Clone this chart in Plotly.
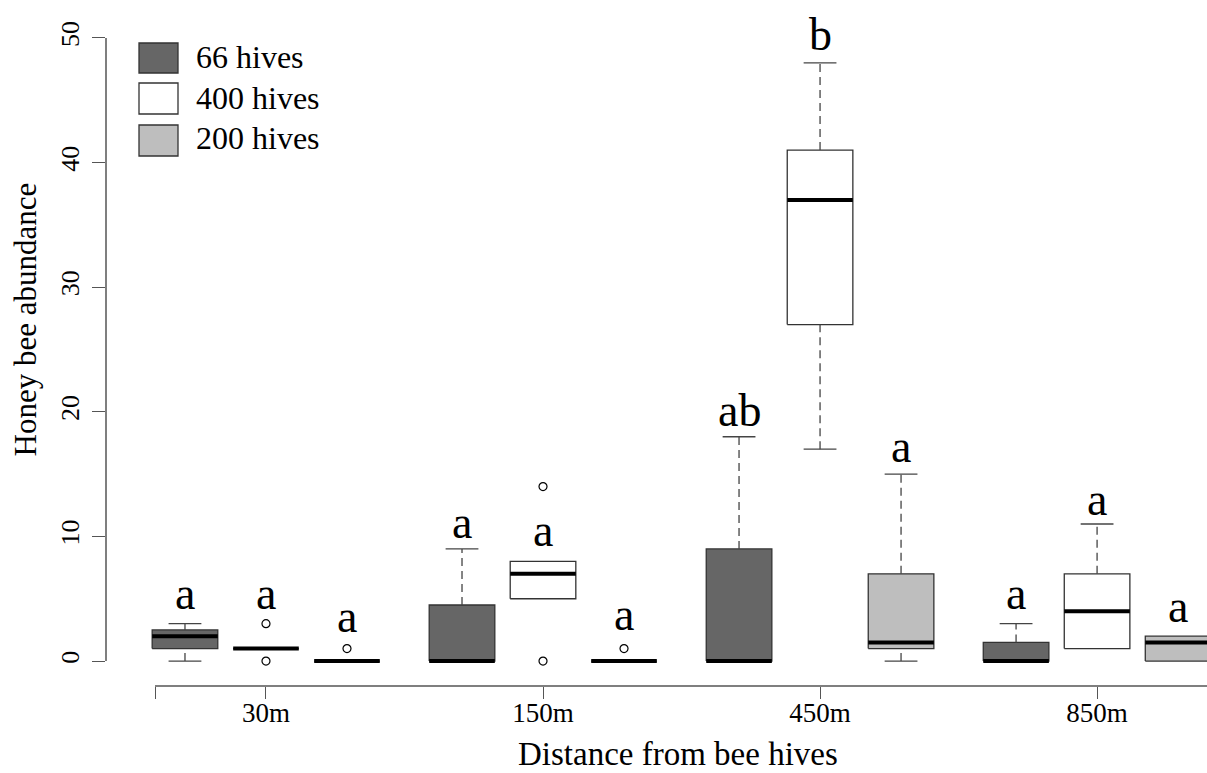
import plotly.graph_objects as go

# ---------------- data ----------------
distances = ["30m", "150m", "450m", "850m"]
hive_groups = ["66 hives", "400 hives", "200 hives"]

# box statistics, order: 30m(66,400,200), 150m(...), 450m(...), 850m(...)
q1 = [1, 1, 0,   0, 5, 0,   0, 27, 1,    0, 1, 0]
med = [2, 1, 0,  0, 7, 0,   0, 37, 1.5,  0, 4, 1.5]
q3 = [2.5, 1, 0, 4.5, 8, 0, 9, 41, 7,    1.5, 7, 2]
lo = [0, 1, 0,   0, 5, 0,   0, 17, 0,    0, 1, 0]
hi = [3, 1, 0,   9, 8, 0,   18, 48, 15,  3, 11, 2]
outliers = [[], [3, 0], [1], [], [14, 0], [1], [], [], [], [], [], []]
letters = ["a", "a", "a", "a", "a", "a", "ab", "b", "a", "a", "a", "a"]
letter_y = [4.2, 4.2, 2.3, 9.9, 9.2, 2.5, 18.9, 49.0, 16.0, 4.2, 11.7, 3.1]

y_ticks = [0, 10, 20, 30, 40, 50]

# ---------------- style ----------------
FONT = "Liberation Serif"
fills = {"66 hives": "#666666", "400 hives": "#FFFFFF", "200 hives": "#BEBEBE"}
BORDER = "#333333"
AXC = "#555555"
GROUP_GAP = 3.42
BOX_W = 0.81
STAPLE = BOX_W / 4
XR = [-1.975, 11.617]
YR = [-2, 52]
AXIS_START = -1.37

W, H = 1207, 773
ML, MR, MT, MB = 106, 0, 13, 87
PW, PH = W - ML - MR, H - MT - MB


def px2paper(px, py):
    return (px - ML) / PW, (H - MB - py) / PH


fig = go.Figure()

idx = 0
for g, dist in enumerate(distances):
    for k, hv in enumerate(hive_groups):
        c = g * GROUP_GAP + (k - 1)
        l, r = c - BOX_W / 2, c + BOX_W / 2
        # box
        fig.add_trace(go.Scatter(
            x=[l, r, r, l, l], y=[q1[idx], q1[idx], q3[idx], q3[idx], q1[idx]],
            mode="lines", fill="toself", fillcolor=fills[hv],
            line=dict(color=BORDER, width=1.3), hoverinfo="skip", showlegend=False))
        # whiskers
        if hi[idx] > q3[idx]:
            fig.add_trace(go.Scatter(x=[c, c], y=[q3[idx], hi[idx]], mode="lines",
                                     line=dict(color="#444444", width=1.3, dash="8px,5px"),
                                     hoverinfo="skip", showlegend=False))
            fig.add_trace(go.Scatter(x=[c - STAPLE, c + STAPLE], y=[hi[idx], hi[idx]], mode="lines",
                                     line=dict(color="#444444", width=1.3),
                                     hoverinfo="skip", showlegend=False))
        if lo[idx] < q1[idx]:
            fig.add_trace(go.Scatter(x=[c, c], y=[lo[idx], q1[idx]], mode="lines",
                                     line=dict(color="#444444", width=1.3, dash="8px,5px"),
                                     hoverinfo="skip", showlegend=False))
            fig.add_trace(go.Scatter(x=[c - STAPLE, c + STAPLE], y=[lo[idx], lo[idx]], mode="lines",
                                     line=dict(color="#444444", width=1.3),
                                     hoverinfo="skip", showlegend=False))
        # median
        fig.add_trace(go.Scatter(x=[l, r], y=[med[idx], med[idx]], mode="lines",
                                 line=dict(color="black", width=4),
                                 hoverinfo="skip", showlegend=False))
        # outliers
        if outliers[idx]:
            fig.add_trace(go.Scatter(x=[c] * len(outliers[idx]), y=outliers[idx], mode="markers",
                                     marker=dict(symbol="circle-open", size=8,
                                                 color="black", line=dict(width=1.2)),
                                     hoverinfo="skip", showlegend=False))
        # significance letter
        fig.add_annotation(x=c, y=letter_y[idx], text=letters[idx], showarrow=False,
                           xanchor="center", yanchor="middle", yshift=15.5,
                           font=dict(family=FONT, size=46, color="black"))
        idx += 1

tick_pos = [AXIS_START] + [g * GROUP_GAP for g in range(len(distances))]
tick_txt = [""] + distances

fig.update_xaxes(range=XR, showgrid=False, zeroline=False, showline=False,
                 ticks="outside", ticklen=12, tickwidth=1.3, tickcolor=AXC,
                 tickvals=tick_pos, ticktext=tick_txt, ticklabelstandoff=-9,
                 tickfont=dict(family=FONT, size=27, color="black"))
fig.update_yaxes(range=YR, showgrid=False, zeroline=False, showline=False,
                 ticks="outside", ticklen=13, tickwidth=1.3, tickcolor=AXC,
                 tickvals=y_ticks, tickangle=-90, ticklabelstandoff=3,
                 tickfont=dict(family=FONT, size=26, color="black"))

# axis lines (R style)
fig.add_shape(type="line", xref="paper", yref="y", x0=0, x1=0, y0=y_ticks[0], y1=y_ticks[-1],
              line=dict(color=AXC, width=1.5))
fig.add_shape(type="line", xref="x", yref="paper", x0=AXIS_START, x1=XR[1], y0=0, y1=0,
              line=dict(color=AXC, width=1.5))

# axis titles
tx, ty = px2paper(678, 754)
fig.add_annotation(xref="paper", yref="paper", x=tx, y=ty, text="Distance from bee hives",
                   showarrow=False, xanchor="center", yanchor="middle",
                   font=dict(family=FONT, size=33, color="black"))
tx, ty = px2paper(24.5, 320)
fig.add_annotation(xref="paper", yref="paper", x=tx, y=ty, text="Honey bee abundance",
                   showarrow=False, xanchor="center", yanchor="middle", textangle=-90,
                   font=dict(family=FONT, size=31, color="black"))

# legend (R style)
leg_rows = [(43, 73, 57.5), (83, 114, 97.5), (125, 156, 137.5)]
for hv, (top, bot, cy) in zip(hive_groups, leg_rows):
    x0, y0 = px2paper(139, bot)
    x1, y1 = px2paper(178, top)
    fig.add_shape(type="rect", xref="paper", yref="paper", x0=x0, x1=x1, y0=y0, y1=y1,
                  fillcolor=fills[hv], line=dict(color=BORDER, width=1.3))
    tx, ty = px2paper(194, cy)
    fig.add_annotation(xref="paper", yref="paper", x=tx, y=ty, text=hv, showarrow=False,
                       xanchor="left", yanchor="middle",
                       font=dict(family=FONT, size=32, color="black"))

fig.update_layout(width=W, height=H, margin=dict(l=ML, r=MR, t=MT, b=MB, pad=0),
                  plot_bgcolor="white", paper_bgcolor="white", showlegend=False,
                  font=dict(family=FONT))

fig.write_html("out.html")
